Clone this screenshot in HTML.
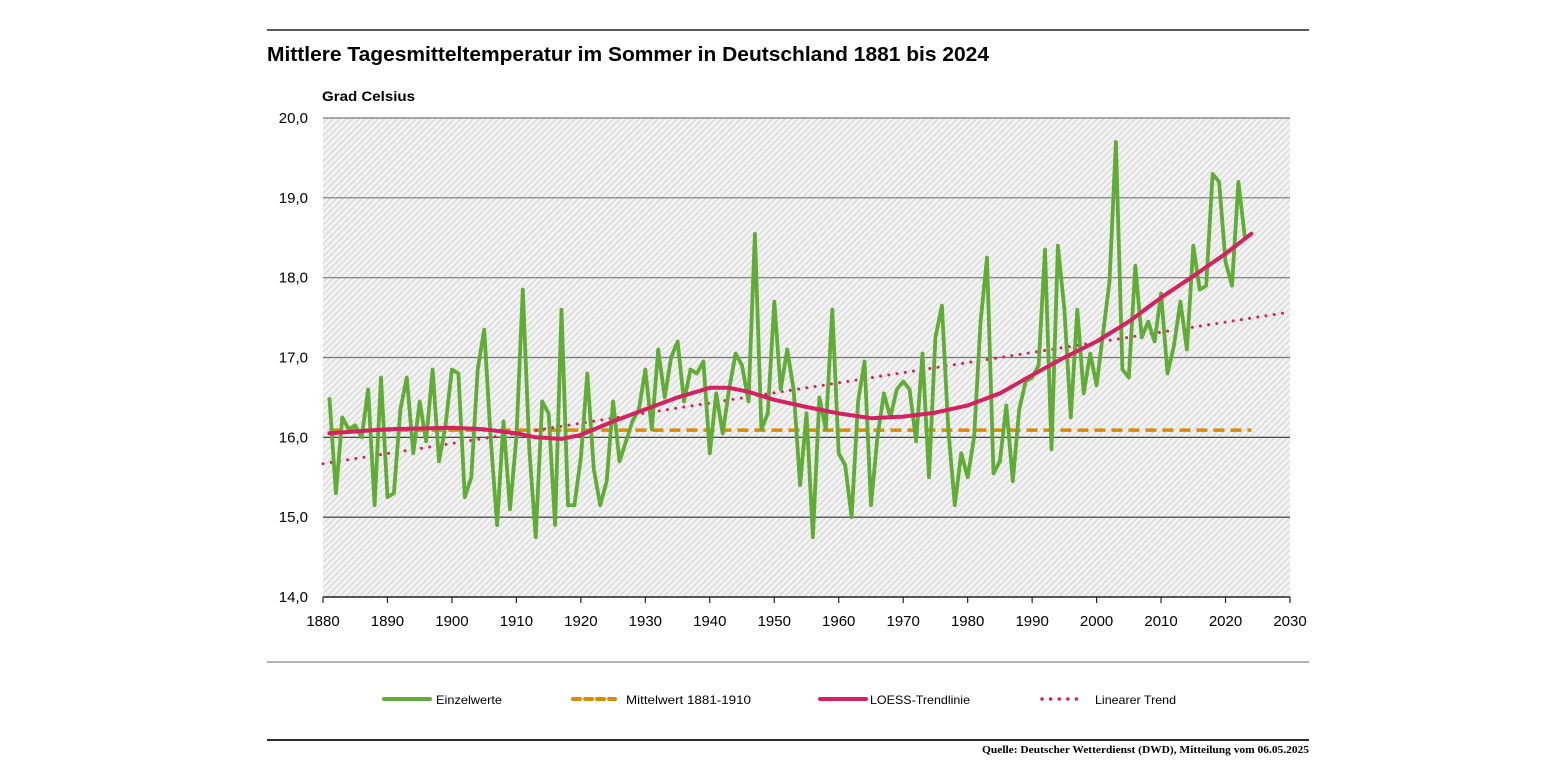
<!DOCTYPE html>
<html><head><meta charset="utf-8"><style>
html,body{margin:0;padding:0;background:#fff;}
svg{display:block;font-family:"Liberation Sans",sans-serif;}
</style></head><body>
<svg id="s" width="1545" height="775" viewBox="0 0 1545 775" xmlns="http://www.w3.org/2000/svg">
<defs>
<pattern id="h" width="4.5" height="4.5" patternUnits="userSpaceOnUse" patternTransform="rotate(45)">
<rect width="5" height="5" fill="#f2f2f2"/>
<line x1="0" y1="0" x2="0" y2="5" stroke="#c8c8c8" stroke-width="1.5"/>
</pattern>
</defs>
<line x1="267" y1="30" x2="1309" y2="30" stroke="#222" stroke-width="1.5"/>
<text x="267" y="61" font-size="20" font-weight="bold" textLength="722" lengthAdjust="spacingAndGlyphs">Mittlere Tagesmitteltemperatur im Sommer in Deutschland 1881 bis 2024</text>
<text x="322" y="101" font-size="14" font-weight="bold" textLength="93" lengthAdjust="spacingAndGlyphs">Grad Celsius</text>
<rect x="323" y="118" width="967" height="479" fill="url(#h)"/>
<g id="grid"></g>
<g id="series"></g>
<line x1="267" y1="662" x2="1309" y2="662" stroke="#888" stroke-width="1.2"/>
<line x1="384" y1="699" x2="430" y2="699" stroke="#5fad35" stroke-width="4" stroke-linecap="round"/>
<text x="436" y="704" font-size="12" textLength="66" lengthAdjust="spacingAndGlyphs">Einzelwerte</text>
<line x1="573" y1="699" x2="615" y2="699" stroke="#dd8a00" stroke-width="4" stroke-dasharray="7 5" stroke-linecap="round"/>
<text x="626" y="704" font-size="12" textLength="125" lengthAdjust="spacingAndGlyphs">Mittelwert 1881-1910</text>
<line x1="820" y1="699" x2="866" y2="699" stroke="#d4215f" stroke-width="4" stroke-linecap="round"/>
<text x="870" y="704" font-size="12" textLength="100" lengthAdjust="spacingAndGlyphs">LOESS-Trendlinie</text>
<line x1="1042" y1="699" x2="1085" y2="699" stroke="#d4215f" stroke-width="3.5" stroke-dasharray="0.1 8.5" stroke-linecap="round"/>
<text x="1095" y="704" font-size="12" textLength="81" lengthAdjust="spacingAndGlyphs">Linearer Trend</text>
<line x1="267" y1="740" x2="1309" y2="740" stroke="#111" stroke-width="1.8"/>
<text x="1309" y="753" font-size="10" font-weight="bold" text-anchor="end" font-family="Liberation Serif,serif" textLength="327" lengthAdjust="spacingAndGlyphs">Quelle: Deutscher Wetterdienst (DWD), Mitteilung vom 06.05.2025</text>
</svg>
<script>
const NS="http://www.w3.org/2000/svg";
const X=y=>323+(y-1880)*967/150, Y=v=>597-(v-14)*479/6;
const g=document.getElementById('grid'), s=document.getElementById('series');
function el(p,tag,a,t){const e=document.createElementNS(NS,tag);for(const k in a)e.setAttribute(k,a[k]);if(t)e.textContent=t;p.appendChild(e);return e;}
for(let v=14;v<=20;v++){const y=Y(v);
 el(g,'line',{x1:323,x2:1290,y1:y,y2:y,stroke:v==14?'#222':(v>=17?'#777':'#333'),'stroke-width':v==14?1.5:1.2});
 el(g,'text',{x:308,y:y+5,'font-size':15,'text-anchor':'end'},v+',0');}
for(let yr=1880;yr<=2030;yr+=10){const x=X(yr);
 el(g,'line',{x1:x,x2:x,y1:597,y2:603,stroke:'#222','stroke-width':1.2});
 el(g,'text',{x:x,y:626,'font-size':15,'text-anchor':'middle'},yr);}
const d=[16.5,15.3,16.25,16.1,16.15,16.0,16.6,15.15,16.75,15.25,15.3,16.35,16.75,15.8,16.45,15.95,16.85,15.7,16.15,16.85,16.8,15.25,15.5,16.85,17.35,16.0,14.9,16.2,15.1,16.0,17.85,15.85,14.75,16.45,16.3,14.9,17.6,15.15,15.15,15.75,16.8,15.6,15.15,15.45,16.45,15.7,15.95,16.2,16.35,16.85,16.1,17.1,16.5,17.0,17.2,16.45,16.85,16.8,16.95,15.8,16.55,16.05,16.6,17.05,16.9,16.45,18.55,16.1,16.3,17.7,16.6,17.1,16.6,15.4,16.3,14.75,16.5,16.1,17.6,15.8,15.65,15.0,16.45,16.95,15.15,16.0,16.55,16.25,16.6,16.7,16.6,15.95,17.05,15.5,17.25,17.65,16.1,15.15,15.8,15.5,16.0,17.45,18.25,15.55,15.7,16.4,15.45,16.35,16.7,16.75,16.9,18.35,15.85,18.4,17.6,16.25,17.6,16.55,17.05,16.65,17.3,17.95,19.7,16.85,16.75,18.15,17.25,17.45,17.2,17.8,16.8,17.15,17.7,17.1,18.4,17.85,17.9,19.3,19.2,18.2,17.9,19.2,18.5,18.55];
el(s,'line',{x1:X(1881),x2:X(2024),y1:Y(16.09),y2:Y(16.09),stroke:'#dd8a00','stroke-width':3.5,'stroke-dasharray':'11 6'});
el(s,'line',{x1:X(1880),x2:X(2030),y1:Y(15.67),y2:Y(17.57),stroke:'#d4215f','stroke-width':3,'stroke-dasharray':'0.1 8.2','stroke-linecap':'round'});
el(s,'polyline',{points:d.map((v,i)=>X(1881+i).toFixed(1)+','+Y(v).toFixed(1)).join(' '),fill:'none',stroke:'#5fad35','stroke-width':3.8,'stroke-linejoin':'round'});
const L=[[1881,16.05],[1890,16.1],[1900,16.12],[1905,16.1],[1910,16.05],[1913,16.0],[1917,15.98],[1920,16.03],[1925,16.2],[1930,16.35],[1935,16.5],[1940,16.62],[1943,16.62],[1946,16.57],[1950,16.47],[1955,16.38],[1960,16.3],[1965,16.24],[1970,16.26],[1975,16.31],[1980,16.4],[1985,16.55],[1990,16.78],[1995,17.0],[2000,17.2],[2005,17.45],[2010,17.75],[2015,18.02],[2020,18.3],[2024,18.55]];
el(s,'polyline',{points:L.map(p=>X(p[0]).toFixed(1)+','+Y(p[1]).toFixed(1)).join(' '),fill:'none',stroke:'#d4215f','stroke-width':4,'stroke-linejoin':'round','stroke-linecap':'round'});
</script>
</body></html>
